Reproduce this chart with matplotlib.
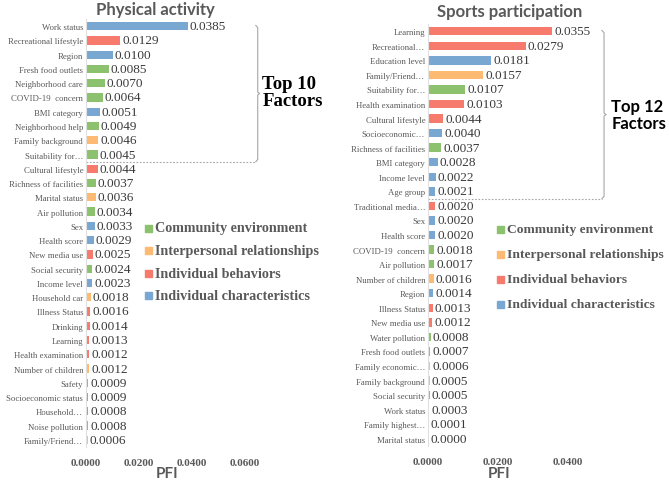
import matplotlib.pyplot as plt
import numpy as np

# Physical activity panel
pa_factors = ['Work status', 'Recreational lifestyle', 'Region', 'Fresh food outlets',
              'Neighborhood care', 'COVID-19  concern', 'BMI category', 'Neighborhood help',
              'Family background', 'Suitability for\u2026', 'Cultural lifestyle',
              'Richness of facilities', 'Marital status', 'Air pollution', 'Sex', 'Health score',
              'New media use', 'Social security', 'Income level', 'Household car',
              'Illness Status', 'Drinking', 'Learning', 'Health examination',
              'Number of children', 'Safety', 'Socioeconomic status', 'Household\u2026',
              'Noise pollution', 'Family/Friend\u2026']
pa_values = [0.0385, 0.0129, 0.0100, 0.0085, 0.0070, 0.0064, 0.0051, 0.0049, 0.0046, 0.0045,
             0.0044, 0.0037, 0.0036, 0.0034, 0.0033, 0.0029, 0.0025, 0.0024, 0.0023, 0.0018,
             0.0016, 0.0014, 0.0013, 0.0012, 0.0012, 0.0009, 0.0009, 0.0008, 0.0008, 0.0006]
pa_groups = ['char', 'beh', 'char', 'comm', 'comm', 'comm', 'char', 'comm', 'inter', 'comm',
             'beh', 'comm', 'inter', 'comm', 'char', 'char', 'beh', 'comm', 'char', 'inter',
             'beh', 'beh', 'beh', 'beh', 'inter', 'comm', 'char', 'char', 'comm', 'inter']

# Sports participation panel
sp_factors = ['Learning', 'Recreational\u2026', 'Education level', 'Family/Friend\u2026',
              'Suitability for\u2026', 'Health examination', 'Cultural lifestyle',
              'Socioeconomic\u2026', 'Richness of facilities', 'BMI category', 'Income level',
              'Age group', 'Traditional media\u2026', 'Sex', 'Health score', 'COVID-19  concern',
              'Air pollution', 'Number of children', 'Region', 'Illness Status', 'New media use',
              'Water pollution', 'Fresh food outlets', 'Family economic\u2026',
              'Family background', 'Social security', 'Work status', 'Family highest\u2026',
              'Marital status']
sp_values = [0.0355, 0.0279, 0.0181, 0.0157, 0.0107, 0.0103, 0.0044, 0.0040, 0.0037, 0.0028,
             0.0022, 0.0021, 0.0020, 0.0020, 0.0020, 0.0018, 0.0017, 0.0016, 0.0014, 0.0013,
             0.0012, 0.0008, 0.0007, 0.0006, 0.0005, 0.0005, 0.0003, 0.0001, 0.0000]
sp_groups = ['beh', 'beh', 'char', 'inter', 'comm', 'beh', 'beh', 'char', 'comm', 'char',
             'char', 'char', 'beh', 'char', 'char', 'comm', 'comm', 'inter', 'char', 'beh',
             'beh', 'comm', 'comm', 'inter', 'inter', 'comm', 'char', 'inter', 'inter']

group_names = ['Community environment', 'Interpersonal relationships',
               'Individual behaviors', 'Individual characteristics']
group_keys = ['comm', 'inter', 'beh', 'char']
group_colors = {'comm': '#8CC26E', 'inter': '#FDBA72', 'beh': '#F77B6C', 'char': '#78A8D2'}

pa_ticks = [0.0, 0.02, 0.04, 0.06]
sp_ticks = [0.0, 0.02, 0.04]

W, H = 669, 481
fig = plt.figure(figsize=(W / 100, H / 100), dpi=100)

serif = 'Liberation Serif'
sans = 'Lato'
gray = '#595959'


def make_axes(x0, x1, y_top, y_bot):
    return fig.add_axes([x0 / W, 1 - y_bot / H, (x1 - x0) / W, (y_bot - y_top) / H])


def draw_panel(ax, factors, values, groups, ticks, xmax):
    y = np.arange(len(factors))
    colors = [group_colors[g] for g in groups]
    ax.barh(y, values, height=0.58, color=colors)
    ax.set_ylim(len(factors) - 0.5, -0.5)
    ax.set_xlim(0, xmax)
    ax.set_yticks(y)
    ax.set_yticklabels(factors, fontfamily=serif, fontsize=6.3, color=gray)
    ax.set_xticks(ticks)
    ax.set_xticklabels(['%.4f' % t for t in ticks], fontfamily=serif, fontsize=8,
                       fontweight='bold', color=gray)
    ax.tick_params(axis='both', length=0)
    ax.tick_params(axis='x', pad=8)
    ax.tick_params(axis='y', pad=2)
    for s in ['top', 'right', 'bottom']:
        ax.spines[s].set_visible(False)
    ax.spines['left'].set_color('#E0E0E0')
    for yi, v in zip(y, values):
        ax.text(v + xmax * 0.012, yi, '%.4f' % v, va='center', ha='left',
                fontfamily=serif, fontsize=9.5, color='#3A3A3A')


def draw_bracket(ax, xb, n_top):
    # "}" shaped bracket right of the top factors, dotted line under them
    c = '#A6A6A6'
    y0, y1 = -0.05, n_top - 0.5
    ym = (y0 + y1) / 2
    nub = ax.get_xlim()[1] * 0.012
    ax.plot([xb - nub, xb, xb, xb + nub, xb, xb, xb - nub],
            [y0, y0 + 0.15, ym - 0.1, ym, ym + 0.1, y1 - 0.15, y1],
            color=c, lw=0.8, clip_on=False)
    ax.plot([0, xb - nub], [y1, y1], color=c, lw=0.8, ls=(0, (1.5, 1.5)), clip_on=False)
    return ym


# left panel
ax1 = make_axes(86, 245, 20, 448)
draw_panel(ax1, pa_factors, pa_values, pa_groups, pa_ticks, 0.06)
ym = draw_bracket(ax1, 0.0648, 10)
ax1.text(0.0665, ym - 0.1, 'Top 10\nFactors', ha='left', va='center', fontfamily=serif,
         fontsize=13.5, fontweight='bold', color='black', linespacing=1.05, clip_on=False)

# right panel
ax2 = make_axes(428, 603, 25, 447)
draw_panel(ax2, sp_factors, sp_values, sp_groups, sp_ticks, 0.05)
ym = draw_bracket(ax2, 0.0503, 12)
ax2.text(0.0524, ym, 'Top 12\nFactors', ha='left', va='center', fontfamily=sans,
         fontsize=12, fontweight='bold', color='black', linespacing=1.1, clip_on=False)

# titles and axis labels placed in figure pixels
fig.text(155 / W, 1 - 10 / H, 'Physical activity', ha='center', va='center',
         fontfamily=sans, fontsize=12, fontweight='bold', color=gray)
fig.text(510 / W, 1 - 12 / H, 'Sports participation', ha='center', va='center',
         fontfamily=sans, fontsize=12, fontweight='bold', color=gray)
fig.text(167 / W, 1 - 474 / H, 'PFI', ha='center', va='center',
         fontfamily=sans, fontsize=11, fontweight='bold', color=gray)
fig.text(499 / W, 1 - 474 / H, 'PFI', ha='center', va='center',
         fontfamily=sans, fontsize=11, fontweight='bold', color=gray)

# legends drawn as squares + text in figure pixels
for lx, ly0, dy, fs in [(145, 229, 22.5, 10.2), (497, 230, 25, 9.7)]:
    for i, key in enumerate(group_keys):
        yy = 1 - (ly0 + i * dy) / H
        fig.patches.append(plt.Rectangle((lx / W, yy - 3.5 / H), 7 / W, 7 / H,
                                         color=group_colors[key],
                                         transform=fig.transFigure, figure=fig))
        fig.text((lx + 10) / W, yy, group_names[i], ha='left', va='center',
                 fontfamily=serif, fontsize=fs, fontweight='bold', color=gray)

fig.savefig('out.png', dpi=100)
